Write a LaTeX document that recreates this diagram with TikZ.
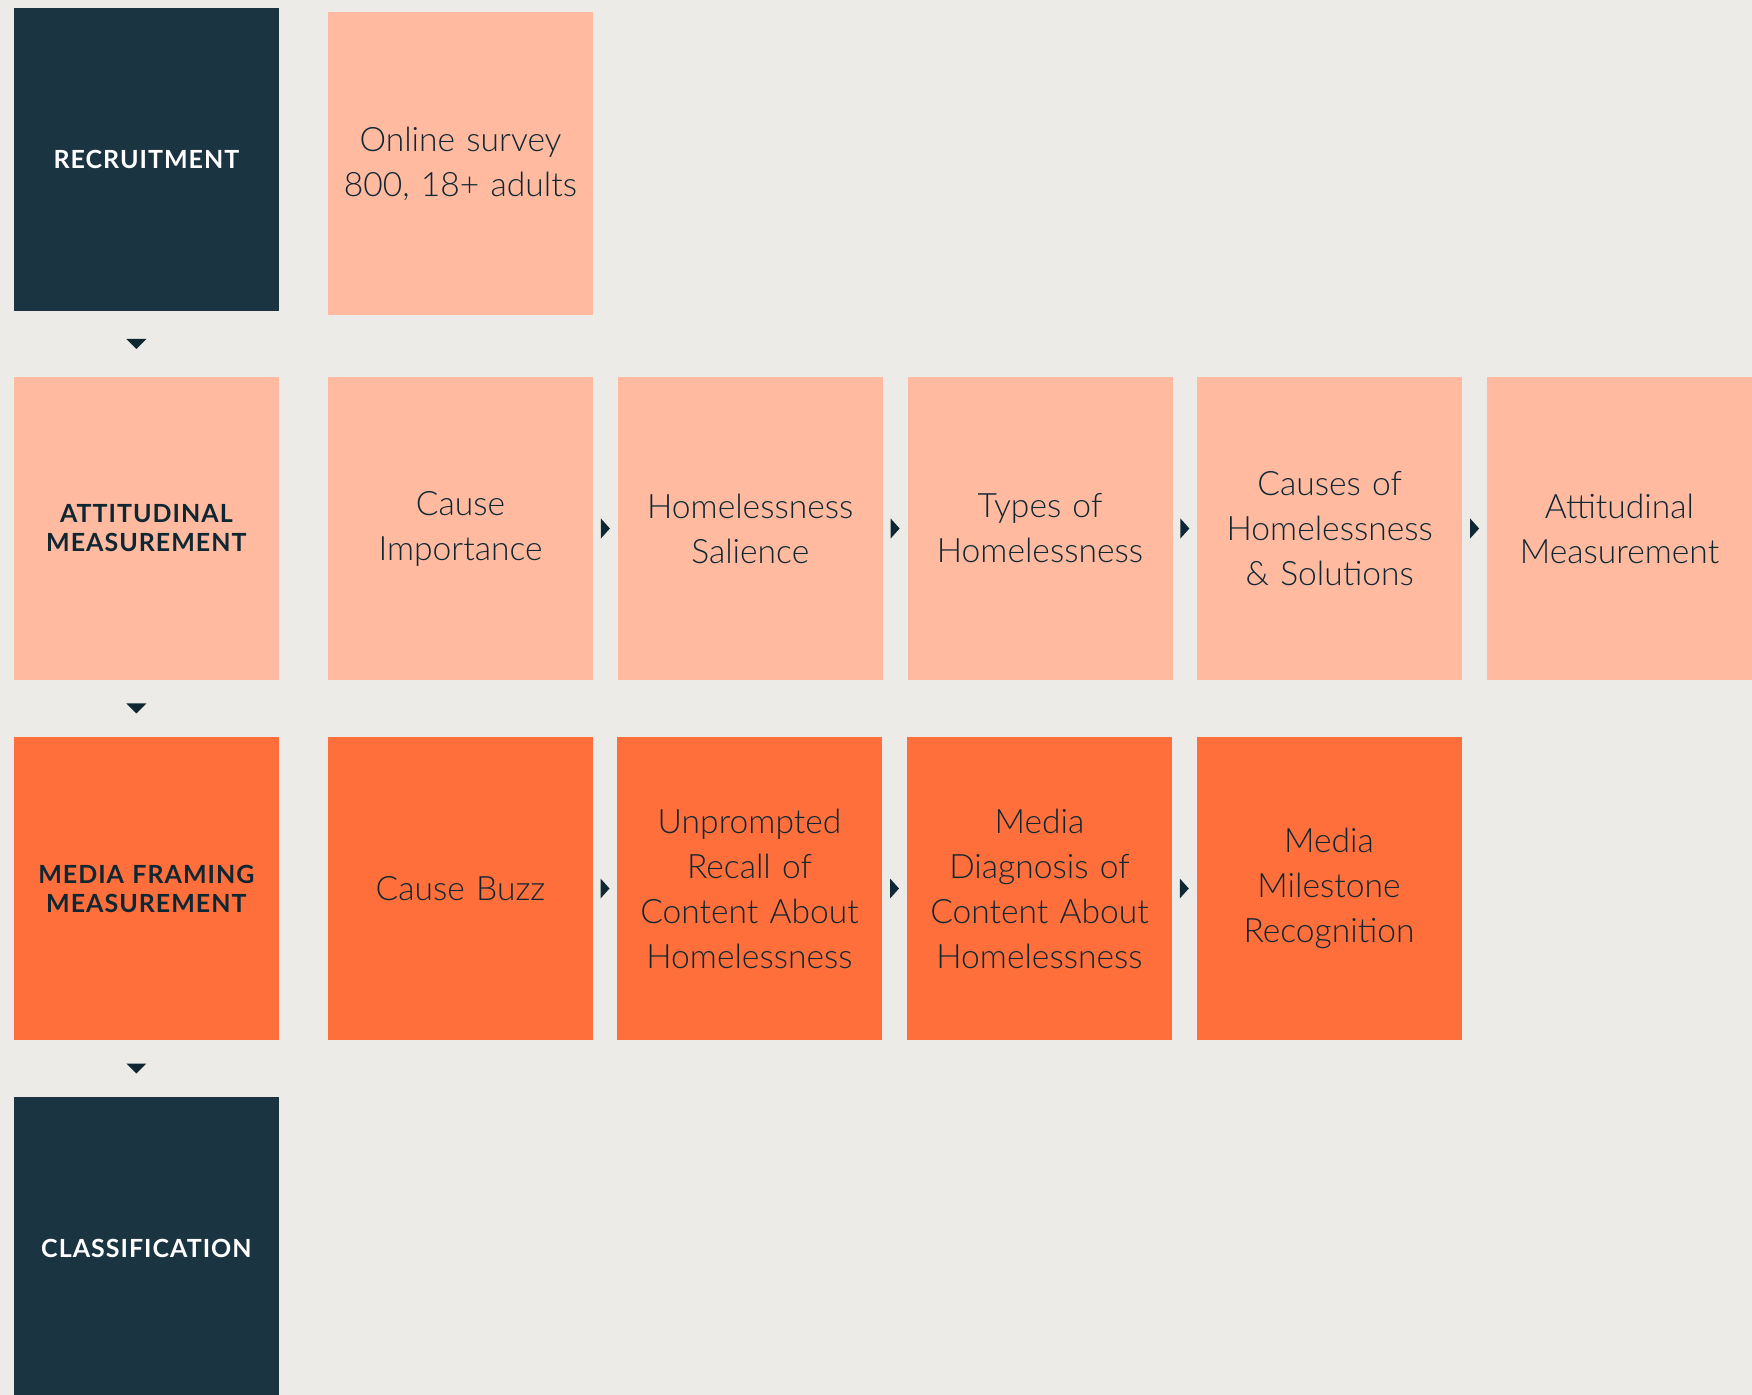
\documentclass[tikz,border=0pt]{standalone}
\usepackage{fontspec}
\setmainfont{Lato}
\newfontfamily\bodyfont{Lato Light}
\newfontfamily\headfont[LetterSpace=4]{Lato Bold}
\definecolor{navy}{HTML}{1B3441}
\definecolor{peach}{HTML}{FFBAA0}
\definecolor{coral}{HTML}{FF6F3B}
\definecolor{paper}{HTML}{EDEBE7}
\definecolor{ink}{HTML}{0E2733}
\begin{document}
\begin{tikzpicture}[x=0.5pt,y=-0.5pt,
  box/.style={minimum width=132.5pt,minimum height=151.5pt,inner sep=0pt,align=center,text width=130pt},
  stage/.style={box,font=\headfont\fontsize{12.5}{14.5}\selectfont},
  item/.style={box,text=ink,font=\bodyfont\fontsize{16.8}{22.5}\selectfont},
  dark/.style={fill=navy,text=white},
  light/.style={fill=peach},
  hot/.style={fill=coral},
  rtip/.pic={\fill[ink] (-4.5,-10) -- (4.5,0) -- (-4.5,10) -- cycle;},
  dtip/.pic={\fill[ink] (-10,-5) -- (10,-5) -- (0,5) -- cycle;}]
  \useasboundingbox (0,0) rectangle (1752,1395);
  \clip (0,0) rectangle (1752,1395);
  \fill[paper] (0,0) rectangle (1752,1395);
  \node[stage,dark] (rec) at (146.4,159.5) {RECRUITMENT};
  \node[item,light] (online) at (460.5,163.5) {Online survey\\800, 18+ adults};
  \node[stage,light,text=ink] (att) at (146.4,528.5) {ATTITUDINAL\\MEASUREMENT};
  \node[item,light] (ci) at (460.5,528.5) {Cause\\Importance};
  \node[item,light] (hs) at (750.25,528.5) {Homelessness\\Salience};
  \node[item,light] (toh) at (1040,528.5) {Types of\\Homelessness};
  \node[item,light] (coh) at (1329.75,528.5) {Causes of\\Homelessness\\\& Solutions};
  \node[item,light] (am) at (1619.5,528.5) {Attitudinal\\Measurement};
  \node[stage,hot,text=ink] (mfm) at (146.4,888.5) {MEDIA FRAMING\\MEASUREMENT};
  \node[item,hot] (cb) at (460.5,888.5) {Cause Buzz};
  \node[item,hot] (ur) at (749.5,888.5) {Unprompted\\Recall of\\Content About\\Homelessness};
  \node[item,hot] (md) at (1039.5,888.5) {Media\\Diagnosis of\\Content About\\Homelessness};
  \node[item,hot] (mm) at (1329,888.5) {Media\\Milestone\\Recognition};
  \node[stage,dark] (cls) at (146.4,1248.5) {CLASSIFICATION};
  \path (rec) -- pic[xshift=-5pt]{dtip} (att);
  \path (att) -- pic[xshift=-5pt]{dtip} (mfm);
  \path (mfm) -- pic[xshift=-5pt]{dtip} (cls);
  \path (ci) -- pic{rtip} (hs);
  \path (hs) -- pic{rtip} (toh);
  \path (toh) -- pic{rtip} (coh);
  \path (coh) -- pic{rtip} (am);
  \path (cb) -- pic{rtip} (ur);
  \path (ur) -- pic{rtip} (md);
  \path (md) -- pic{rtip} (mm);
\end{tikzpicture}
\end{document}
